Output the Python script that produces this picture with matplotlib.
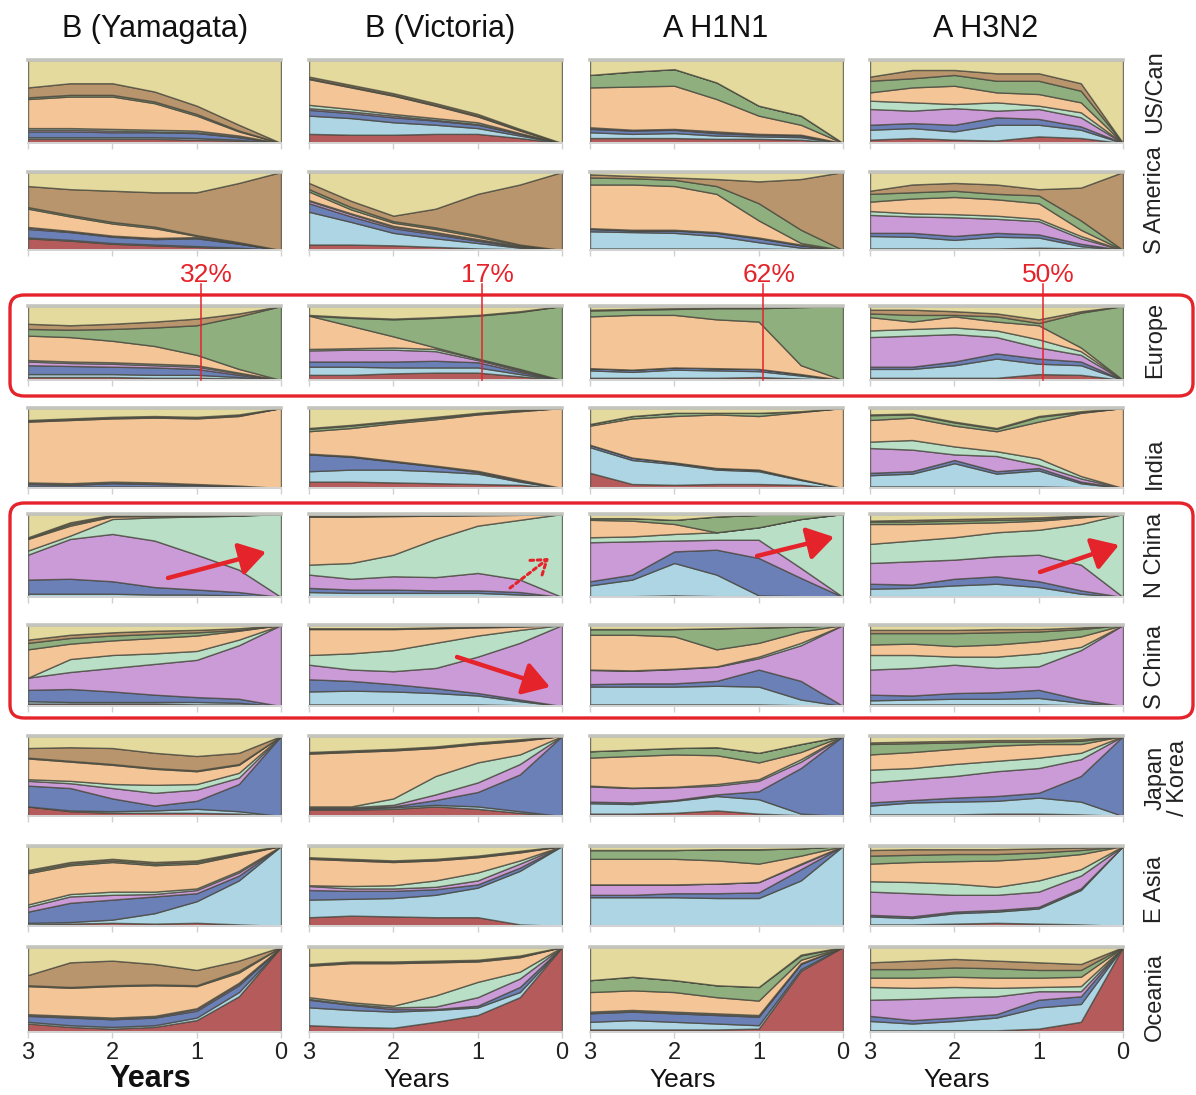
import numpy as np
import matplotlib
matplotlib.use("Agg")
import matplotlib.pyplot as plt
from matplotlib.patches import FancyBboxPatch, FancyArrowPatch
from matplotlib import font_manager

# ---------------- data ----------------
YEARS = [3, 2.5, 2, 1.5, 1, 0.5, 0]
SUBTYPES = ["B (Yamagata)", "B (Victoria)", "A H1N1", "A H3N2"]
ROW_LABELS = ["US/Can", "S America", "Europe", "India", "N China", "S China",
              "Japan\n/ Korea", "E Asia", "Oceania"]
# stacking order (bottom -> top)
SOURCES = ["Oceania", "E Asia", "Japan/Korea", "S China", "N China", "India",
           "Europe", "S America", "US/Can"]
XTICKS = [3, 2, 1, 0]
EUROPE_PCT = ["32%", "17%", "62%", "50%"]

# Each panel: cumulative share (%) at the top of the first 8 source layers
# (Oceania, E Asia, Japan/Korea, S China, N China, India, Europe, S America);
# the US/Can layer fills up to 100 %.
USCAN_YAM = [[5, 5, 5, 5, 4, 3, 0], [7, 7, 7, 7, 6, 4, 0], [14, 14, 13, 13, 12, 7, 0],
             [16, 16, 15, 14, 13, 8, 0], [18, 18, 17, 16, 15, 9, 0], [53, 56, 56, 48, 33, 14, 0],
             [55, 58, 58, 50, 35, 15, 0], [67, 72, 72, 62, 45, 22, 0]]
USCAN_VIC = [[11, 10, 10, 11, 11, 6, 0], [33, 30, 25, 22, 18, 9, 0], [40, 36, 31, 27, 22, 11, 0],
             [42, 38, 33, 28, 23, 12, 0], [46, 41, 35, 30, 25, 12, 0], [77, 67, 57, 45, 32, 15, 0],
             [78, 68, 58, 46, 33, 16, 0], [80, 70, 60, 48, 35, 17, 0]]
USCAN_H1 = [[6, 6, 6, 5, 5, 4, 0], [13, 11, 12, 9, 8, 7, 0], [17, 15, 16, 12, 10, 9, 0],
            [18, 16, 17, 13, 11, 10, 0], [19, 16, 17, 14, 11, 10, 0], [67, 68, 69, 53, 33, 22, 0],
            [82, 86, 89, 73, 45, 33, 0], [82, 86, 89, 73, 45, 33, 0]]
USCAN_H3 = [[4, 6, 4, 3, 8, 6, 0], [16, 18, 14, 22, 22, 16, 0], [22, 24, 22, 31, 29, 20, 0],
            [41, 39, 42, 39, 41, 31, 0], [51, 49, 47, 49, 45, 37, 0], [61, 67, 69, 61, 59, 49, 0],
            [75, 78, 82, 75, 75, 63, 0], [80, 88, 88, 84, 84, 72, 0]]

SAM_YAM = [[15, 12, 8, 6, 4, 2, 0], [16, 13, 9, 7, 5, 3, 0], [27, 23, 17, 14, 15, 8, 0],
           [29, 24, 18, 15, 16, 8.5, 0], [29.5, 24.5, 18.5, 15.5, 16.5, 9, 0],
           [53, 43, 34, 28, 18, 9.5, 0], [55, 45, 36, 30, 19, 10, 0], [82, 78, 76, 74, 74, 86, 100]]
SAM_VIC = [[7, 7, 6, 4, 2, 1, 0], [49, 36, 22, 15, 9, 3, 0], [60, 43, 28, 20, 12, 4, 0],
           [63, 46, 30, 22, 13, 5, 0], [64, 47, 31, 23, 14, 5.5, 0], [75, 52, 35, 27, 17, 6.5, 0],
           [78, 55, 37, 29, 19, 7, 0], [86, 63, 44, 53, 72, 84, 100]]
SAM_H1 = [[2, 2, 2, 2, 2, 1, 0], [24, 23, 22, 18, 10, 3, 0], [27, 25, 25, 22, 15, 6, 0],
          [27.5, 25.5, 25.5, 22.5, 15.5, 6.5, 0], [28, 26, 26, 23, 16, 7, 0],
          [84, 84, 82, 72, 38, 9, 0], [93, 92, 90, 82, 60, 26, 0], [97, 95, 93, 91, 88, 91, 100]]
SAM_H3 = [[2, 2, 2, 2, 3, 2, 0], [18, 17, 13, 17, 16, 5, 0], [22, 22, 18, 22, 20, 8, 0],
          [45, 43, 42, 40, 37, 15, 0], [50, 47, 46, 44, 40, 18, 0], [62, 66, 68, 65, 60, 26, 0],
          [72, 74, 76, 72, 70, 38, 0], [76, 84, 86, 84, 78, 80, 100]]

EUR_YAM = [[4, 4, 4, 3, 3, 2, 0], [8, 8, 8, 7, 7, 4, 0], [20, 19, 18, 17, 15, 7, 0],
           [25, 23, 22, 20, 18, 9, 0], [27, 25, 24, 22, 20, 10, 0], [60, 58, 53, 46, 34, 15, 0],
           [69, 68, 69, 71, 74, 86, 100], [76, 74, 76, 79, 83, 90, 100]]
EUR_VIC = [[7, 7, 9, 10, 10, 5, 0], [18, 18, 17, 17, 17, 8, 0], [25, 25, 25, 26, 24, 11, 0],
           [40, 41, 41, 39, 27, 13, 0], [42, 43, 44, 42, 29, 14, 0], [87, 73, 59, 44, 29, 15, 0],
           [87, 84, 82, 84, 87, 92, 100], [88, 85, 83, 85, 88, 93, 100]]
EUR_H1 = [[3, 3, 3, 3, 4, 2, 0], [13, 11, 14, 13, 12, 6, 0], [16, 14, 17, 16, 15, 8, 0],
          [16, 14, 17, 16, 15, 8, 0], [16, 14, 17, 16, 15, 8, 0], [86, 88, 88, 82, 79, 20, 0],
          [94, 95, 96, 97, 97, 98.5, 100], [95, 96, 97, 98, 98, 99, 100]]
EUR_H3 = [[3, 3, 3, 3, 8, 7, 0], [15, 15, 20, 29, 22, 20, 0], [18, 18, 25, 36, 29, 25, 0],
          [58, 60, 62, 58, 44, 34, 0], [67, 69, 71, 67, 55, 39, 0], [85, 79, 86, 79, 74, 44, 0],
          [90, 88, 88, 86, 77, 91, 100], [95, 95, 93, 90, 82, 93, 100]]

IND_YAM = [[1, 1, 1, 1, 1, 0.5, 0], [2, 2, 2, 2, 2, 1, 0], [5, 4, 6, 5, 4, 2, 0],
           [6, 5, 7, 6, 4.5, 2.5, 0], [7, 6, 8, 7, 5, 3, 0], [83, 85, 87, 88, 87, 90, 100],
           [84, 86, 88, 89, 88, 91, 100], [85, 87, 89, 90, 89, 92, 100]]
IND_VIC = [[8, 8, 7, 6, 5, 4, 0], [21, 23, 23, 21, 18, 8, 0], [42, 39, 33, 27, 20, 9, 0],
           [42.5, 39.5, 33.5, 27.5, 21, 10, 0], [43, 40, 34, 28, 21.5, 10.5, 0],
           [71, 75, 81, 86, 92, 96, 100], [74, 78, 83, 88, 93, 97, 100], [75, 79, 84, 89, 94, 98, 100]]
IND_H1 = [[19, 5, 4, 5, 5, 4, 0], [51, 35, 30, 23, 21, 10, 0], [54, 38, 32, 25, 23, 11, 0],
          [54, 38, 32, 25, 23, 11, 0], [54, 38, 32, 25, 23, 11, 0], [78, 87, 90, 92, 90, 95, 100],
          [80, 90, 94, 94, 94, 96, 100], [80, 90, 94, 94, 94, 96, 100]]
IND_H3 = [[2, 2, 2, 2, 2, 1, 0], [16, 18, 31, 18, 22, 6, 0], [19, 21, 35, 21, 25, 8, 0],
          [50, 48, 42, 40, 29, 12, 0], [58, 60, 52, 46, 37, 15, 0], [85, 88, 78, 71, 83, 94, 100],
          [91, 92, 82, 74, 89, 95, 100], [92, 93, 83, 75, 90, 96, 100]]

NCH_YAM = [[1, 1, 1, 1, 1, 0.5, 0], [4, 4, 4, 3, 3, 2, 0], [21, 22, 19, 12, 9, 6, 0],
           [51, 70, 76, 68, 51, 33, 0], [56, 74, 94, 96, 97, 98, 100], [70, 86, 97, 97.5, 98, 98.5, 100],
           [71, 88, 98, 98, 98.5, 99, 100], [72, 90, 99, 99, 99, 99.5, 100]]
NCH_VIC = [[1, 1, 1, 1, 1, 0.5, 0], [6, 5, 5, 5, 5, 3, 0], [11, 9, 9, 8, 8, 6, 0],
           [27, 22, 25, 24, 29, 21, 0], [39, 41, 51, 70, 86, 93, 100], [97, 97, 97.5, 98, 98.5, 99, 100],
           [97.5, 97.5, 98, 98.5, 99, 99.5, 100], [98, 98, 98.5, 99, 99.5, 99.7, 100]]
NCH_H1 = [[1, 1, 2, 1, 1, 0.5, 0], [14, 21, 41, 27, 2, 1, 0], [19, 27, 55, 57, 47, 23, 0],
          [66, 67, 68, 69, 69, 35, 0], [72, 73, 76, 78, 84, 94, 100], [93, 92, 88, 78, 84, 94, 100],
          [95, 95, 93, 97, 99, 99.5, 100], [95, 95, 93, 97, 99, 99.5, 100]]
NCH_H3 = [[1, 1, 1, 1, 1, 0.5, 0], [10, 11, 14, 16, 12, 4, 0], [16, 15, 22, 25, 19, 8, 0],
          [41, 43, 45, 49, 51, 39, 0], [64, 68, 72, 78, 81, 88, 100], [88, 88, 89, 90, 92, 96, 100],
          [91, 91, 92, 93, 94, 97, 100], [92, 93, 94, 95, 96, 98, 100]]

SCH_YAM = [[3, 3, 3, 3, 2, 2, 0], [6, 5, 5, 5, 5, 4, 0], [20, 21, 18, 14, 11, 9, 0],
           [35, 42, 47, 52, 57, 75, 100], [35, 58, 63, 65, 68, 82, 100], [70, 77, 81, 84, 87, 93, 100],
           [78, 84, 87, 89, 91, 94, 100], [82, 88, 91, 93, 94, 96, 100]]
SCH_VIC = [[2, 2, 2, 2, 2, 1, 0], [18, 19, 18, 16, 13, 6, 0], [33, 31, 27, 22, 16, 8, 0],
           [51, 45, 43, 47, 61, 78, 100], [63, 65, 69, 78, 87, 94, 100], [95, 95, 95, 96, 97, 98, 100],
           [96, 96, 96, 97, 98, 99, 100], [96, 96, 96, 97, 98, 99, 100]]
SCH_H1 = [[2, 2, 2, 2, 2, 1, 0], [24, 24, 24, 25, 24, 8, 0], [27, 28, 28, 31, 45, 31, 0],
          [44.5, 43.5, 45.5, 48.5, 59, 75, 100], [45, 44, 46, 49, 61, 78, 100],
          [88, 88, 86, 70, 78, 92, 100], [95, 95, 95, 96, 97, 98, 100], [95, 95, 95, 96, 97, 98, 100]]
SCH_H3 = [[2, 2, 2, 2, 2, 1, 0], [7, 8, 9, 9, 10, 4, 0], [14, 13, 16, 17, 20, 8, 0],
          [45, 47, 51, 47, 49, 69, 100], [63, 63, 61, 61, 65, 73, 100], [76, 77, 74, 76, 80, 86, 100],
          [90, 90, 90, 91, 92, 95, 100], [94, 94, 94, 95, 95, 97, 100]]

JK_YAM = [[12, 6, 4, 4, 4, 3, 0], [12, 7, 6, 7, 9, 6, 0], [38, 35, 22, 13, 19, 40, 100],
          [44, 41, 35, 29, 33, 48, 100], [46, 44, 40, 39, 40, 54, 100], [72, 68, 64, 59, 56, 64, 100],
          [73, 69, 65, 60, 57, 65, 100], [85, 86, 85, 79, 75, 79, 100]]
JK_VIC = [[8, 8, 9, 12, 9, 4, 0], [9, 9, 11, 14, 12, 6, 0], [10, 10, 12, 20, 30, 52, 100],
          [11, 11, 14, 27, 42, 65, 100], [12, 12, 22, 50, 67, 77, 100], [78, 80, 82, 85, 90, 94, 100],
          [79, 81, 83, 86, 91, 95, 100], [80, 82, 84, 87, 92, 96, 100]]
JK_H1 = [[3, 3, 4, 7, 3, 1, 0], [16, 15, 19, 25, 21, 3, 0], [18, 17, 20, 27, 31, 60, 100],
         [37, 35, 36, 38, 44, 68, 100], [38, 35.5, 36.5, 40, 46, 71, 100], [73, 75, 77, 76, 67, 80, 100],
         [81, 83, 85, 86, 79, 90, 100], [81, 83, 85, 86, 79, 90, 100]]
JK_H3 = [[2, 2, 2, 3, 3, 2, 0], [13, 17, 18, 19, 23, 18, 0], [17, 20, 23, 25, 29, 50, 100],
         [42, 46, 50, 56, 60, 71, 100], [58, 60, 65, 69, 73, 79, 100], [77, 80, 84, 88, 90, 90, 100],
         [90, 91, 92, 93, 93, 94, 100], [92, 93, 94, 95, 95, 96, 100]]

EA_YAM = [[2, 3, 4, 3, 4, 2, 0], [4, 5, 8, 16, 31, 57, 100], [18, 29, 33, 37, 41, 63, 100],
          [24, 37, 39, 40, 45, 67, 100], [27, 40, 43, 43, 47, 69, 100], [66, 76, 80, 76, 78, 89, 100],
          [68, 78, 82, 78, 80, 90.5, 100], [70, 80, 84, 80, 82, 92, 100]]
EA_VIC = [[11, 13, 12, 11, 11, 2, 0], [33, 34, 35, 39, 48, 69, 100], [45, 44, 44, 46, 52, 73, 100],
          [50, 47, 47, 49, 57, 78, 100], [51, 50, 51, 57, 67, 82, 100], [84, 82, 80, 82, 86, 92, 100],
          [85, 83, 81, 83, 87, 93, 100], [86, 84, 82, 84, 88, 94, 100]]
EA_H1 = [[1, 1, 1, 1, 1, 1, 0], [36, 36, 36, 35, 35, 57, 100], [39, 39, 41, 41, 42, 71, 100],
         [52, 52, 52, 53, 55, 77, 100], [52, 52, 52, 53, 55, 78, 100], [84, 84, 84, 82, 78, 88, 100],
         [95, 95, 95, 96, 96, 97, 100], [95, 95, 95, 96, 96, 97, 100]]
EA_H3 = [[2, 2, 3, 4, 3, 2, 0], [12, 10, 16, 18, 22, 45, 100], [14, 12, 18, 20, 24, 47, 100],
         [43, 41, 39, 39, 43, 63, 100], [56, 55, 53, 49, 57, 71, 100], [78, 80, 81, 82, 85, 90, 100],
         [88, 89, 90, 90, 92, 95, 100], [95, 96, 96, 96, 97, 98, 100]]

OC_YAM = [[10, 6, 4, 6, 14, 42, 100], [12, 8, 6, 8, 17, 47, 100], [19, 17, 15, 17, 25, 55, 100],
          [20, 18, 16, 18, 27, 57, 100], [21, 19, 17, 19, 28, 58, 100], [54, 52, 54, 55, 54, 70, 100],
          [55, 53, 55, 56, 55, 72, 100], [67, 82, 84, 80, 73, 84, 100]]
OC_VIC = [[8, 6, 5, 12, 20, 41, 100], [29, 26, 24, 26, 29, 47, 100], [38, 32, 27, 27, 31, 53, 100],
          [39, 33, 29, 30, 41, 63, 100], [41, 35, 31, 43, 59, 71, 100], [78, 81, 81, 82, 83, 88, 100],
          [79, 82, 82, 83, 84, 89, 100], [80, 83, 83, 84, 85, 90, 100]]
OC_H1 = [[3, 3, 3, 3, 4, 72, 100], [12, 14, 12, 10, 8, 74, 100], [22, 24, 22, 20, 18, 80, 100],
         [23, 25, 23, 21, 19, 81, 100], [24, 26, 24, 22, 20, 81, 100], [47, 49, 47, 41, 37, 85, 100],
         [61, 65, 61, 55, 53, 90, 100], [61, 65, 61, 55, 53, 91, 100]]
OC_H3 = [[2, 2, 2, 2, 4, 12, 100], [13, 10, 13, 17, 29, 33, 100], [19, 14, 17, 21, 38, 42, 100],
         [38, 39, 41, 42, 48, 48, 100], [53, 52, 53, 52, 53, 54, 100], [64, 64, 65, 64, 64, 65, 100],
         [74, 74, 76, 75, 73, 73, 100], [82, 84, 86, 84, 82, 80, 100]]

PANELS = [
    [USCAN_YAM, USCAN_VIC, USCAN_H1, USCAN_H3],
    [SAM_YAM, SAM_VIC, SAM_H1, SAM_H3],
    [EUR_YAM, EUR_VIC, EUR_H1, EUR_H3],
    [IND_YAM, IND_VIC, IND_H1, IND_H3],
    [NCH_YAM, NCH_VIC, NCH_H1, NCH_H3],
    [SCH_YAM, SCH_VIC, SCH_H1, SCH_H3],
    [JK_YAM, JK_VIC, JK_H1, JK_H3],
    [EA_YAM, EA_VIC, EA_H1, EA_H3],
    [OC_YAM, OC_VIC, OC_H1, OC_H3],
]

# ---------------- style ----------------
COLORS = ["#B55B5C", "#AED5E3", "#6C80B8", "#CB9BD8", "#B9E0C6",
          "#F4C597", "#8FAF7F", "#B8956C", "#E5DA9E"]
EDGE = (0.28, 0.28, 0.24, 0.75)
RED = "#E5232B"


def pick(*names):
    avail = {f.name for f in font_manager.fontManager.ttflist}
    for n in names:
        if n in avail:
            return n
    return "DejaVu Sans"


NARROW = pick("Liberation Sans Narrow", "Arial Narrow", "Liberation Sans")
REG = pick("Liberation Sans", "Arial", "DejaVu Sans")

W, H = 1196, 1095
fig = plt.figure(figsize=(W / 100, H / 100), dpi=100)
fig.patch.set_facecolor("white")

COL_X = [28, 309, 590, 870]
COL_W = 253
ROW_TOP = [60, 172, 306, 408, 514, 625, 736, 846, 947]
ROW_BOT = [143, 250, 380, 488, 597, 706, 816, 926, 1032]
TITLE_X = [155, 440, 716, 986]
YEARS_X = [150, 417, 683, 957]
ROWLAB_Y = [92, 200, 340, 463, 555, 667, 778, 889, 997]


def fxy(px, py):
    return (px / W, 1 - py / H)


axes = {}
for r in range(9):
    for c in range(4):
        ax = fig.add_axes([COL_X[c] / W, 1 - ROW_BOT[r] / H, COL_W / W,
                           (ROW_BOT[r] - ROW_TOP[r]) / H])
        axes[(r, c)] = ax
        cum = np.array(PANELS[r][c], dtype=float)
        n = cum.shape[1]
        full = np.vstack([np.zeros(n), cum, np.full(n, 100.0)])
        full = np.maximum.accumulate(full, axis=0)
        shares = np.diff(full, axis=0)
        ax.stackplot(YEARS, shares, colors=COLORS, edgecolor=EDGE, linewidth=1.0)
        ax.set_xlim(3, 0)
        ax.set_ylim(0, 100)
        ax.set_yticks([])
        for s in ("left", "right"):
            ax.spines[s].set_visible(False)
        ax.spines["top"].set_color("#C4C4BE")
        ax.spines["top"].set_linewidth(2.6)
        ax.spines["bottom"].set_color("#D6D6D6")
        ax.spines["bottom"].set_linewidth(1.4)
        ax.set_xticks(XTICKS)
        ax.tick_params(axis="x", direction="out", length=4, width=1.0,
                       color="#D0D0D0", pad=3)
        if r == 8:
            ax.set_xticklabels([str(t) for t in XTICKS], fontsize=17,
                               family=NARROW, color="#222222")
        else:
            ax.set_xticklabels([])
        ax.set_facecolor("white")

# column titles
for c, name in enumerate(SUBTYPES):
    fig.text(TITLE_X[c] / W, 1 - 29 / H, name, ha="center",
             va="center", fontsize=22, family=NARROW, color="#111111")

# "Years" labels
for c in range(4):
    if c == 0:
        fig.text(YEARS_X[c] / W, 1 - 1079 / H, "Years", ha="center", va="center",
                 fontsize=22, family=NARROW, weight="bold", color="#111111")
    else:
        fig.text(YEARS_X[c] / W, 1 - 1080 / H, "Years",
                 ha="center", va="center", fontsize=19, family=NARROW,
                 color="#111111")

# row labels
for r, lab in enumerate(ROW_LABELS):
    fig.text(1167 / W if "\n" in lab else 1155 / W, 1 - ROWLAB_Y[r] / H, lab,
             rotation=90, ha="center", va="center", fontsize=17, family=REG,
             color="#222222", linespacing=1.0)

# Europe annotations
for c in range(4):
    ax = axes[(2, c)]
    ax.plot([0.95, 0.95], [0, 130], color=RED, lw=1.1, clip_on=False, zorder=5)
    ax.text(0.88, 126, EUROPE_PCT[c], ha="center", va="bottom", color=RED,
            fontsize=19, family=NARROW, clip_on=False)

# red rounded boxes
for (x0, y0, x1, y1) in [(10, 295, 1193, 396), (10, 503, 1193, 718)]:
    box = FancyBboxPatch(fxy(x0, y1), (x1 - x0) / W, (y1 - y0) / H,
                         boxstyle="round,pad=0,rounding_size=0.012",
                         transform=fig.transFigure, fill=False,
                         edgecolor=RED, linewidth=2.4)
    fig.patches.append(box)

# red arrows
for (a, b) in [((168, 578), (266, 552)), ((757, 556), (834, 537)),
               ((1040, 572), (1119, 545)), ((457, 657), (550, 687))]:
    arr = FancyArrowPatch(fxy(*a), fxy(*b), transform=fig.transFigure,
                          arrowstyle="-|>,head_length=0.8,head_width=0.5",
                          mutation_scale=20, lw=3.2, color=RED,
                          shrinkA=0, shrinkB=0)
    fig.patches.append(arr)
arr = FancyArrowPatch(fxy(510, 588), fxy(549, 558), transform=fig.transFigure,
                      arrowstyle="->,head_length=0.5,head_width=0.35",
                      mutation_scale=20, lw=2.2, color=RED, linestyle=(0, (1.2, 1.2)),
                      shrinkA=0, shrinkB=0)
fig.patches.append(arr)

fig.savefig("out.png", dpi=100, facecolor="white")
